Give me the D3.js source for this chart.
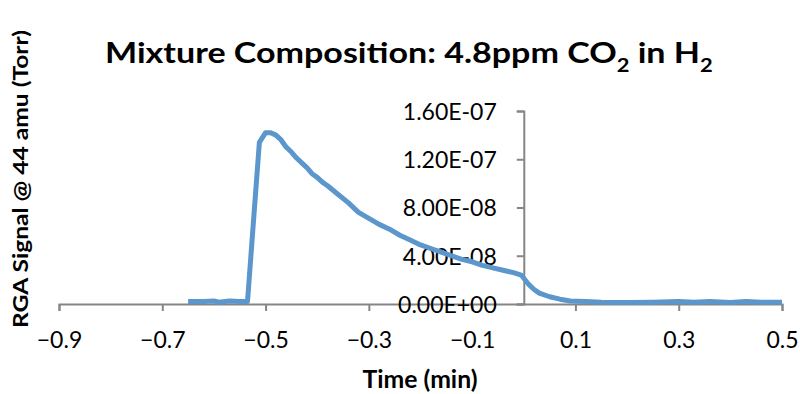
<!DOCTYPE html>
<html><head><meta charset="utf-8">
<script src="https://cdn.jsdelivr.net/npm/d3@7/dist/d3.min.js"></script>
<style>body{margin:0;background:#fff}svg{display:block}</style>
</head><body>
<svg id="c" width="800" height="394"></svg>
<script>
const times = [-0.65,-0.62,-0.60,-0.59,-0.57,-0.55,-0.535,-0.512,-0.50,-0.49,-0.48,-0.47,-0.46,-0.45,-0.44,-0.43,-0.42,-0.41,-0.40,-0.39,-0.38,-0.36,-0.34,-0.32,-0.30,-0.28,-0.26,-0.24,-0.22,-0.20,-0.18,-0.16,-0.14,-0.12,-0.10,-0.08,-0.06,-0.04,-0.02,-0.005,0.01,0.02,0.03,0.05,0.07,0.09,0.12,0.15,0.20,0.25,0.30,0.33,0.36,0.40,0.43,0.46,0.50];
const signal = [2.0e-9,2.0e-9,2.5e-9,1.5e-9,2.5e-9,2.0e-9,2.0e-9,1.34e-7,1.42e-7,1.42e-7,1.40e-7,1.36e-7,1.30e-7,1.26e-7,1.21e-7,1.17e-7,1.13e-7,1.08e-7,1.05e-7,1.01e-7,9.8e-8,9.1e-8,8.4e-8,7.6e-8,7.1e-8,6.6e-8,6.2e-8,5.7e-8,5.3e-8,4.9e-8,4.6e-8,4.3e-8,4.0e-8,3.7e-8,3.5e-8,3.2e-8,3.0e-8,2.8e-8,2.6e-8,2.4e-8,1.6e-8,1.2e-8,9e-9,6e-9,4e-9,2.5e-9,2e-9,1.5e-9,1.2e-9,1.5e-9,2e-9,1.5e-9,2e-9,1.2e-9,2e-9,1.5e-9,1.5e-9];
const xTicks = [-0.9,-0.7,-0.5,-0.3,-0.1,0.1,0.3,0.5];
const yTicks = [0,4e-8,8e-8,1.2e-7,1.6e-7];
const title = "Mixture Composition: 4.8ppm CO";
const yLabel = "RGA Signal @ 44 amu (Torr)";
const xLabel = "Time (min)";

const svg = d3.select("#c");
const x = d3.scaleLinear().domain([-0.9,0.5]).range([59,782]);
const y = d3.scaleLinear().domain([0,1.6e-7]).range([304,111]);
const axisColor = "#868686";
const font = "Lato, 'Open Sans', sans-serif";

function fmt(v){
  if (v===0) return "0.00E+00";
  const s = v.toExponential(2).split("e");
  const e = parseInt(s[1],10);
  return s[0] + "E" + (e<0?"-":"+") + String(Math.abs(e)).padStart(2,"0");
}

const gx = svg.append("g").attr("transform",`translate(0,${y(0)})`)
  .call(d3.axisBottom(x).tickValues(xTicks).tickSize(7).tickPadding(21).tickFormat(d=>d3.format(".1f")(d)));
const gy = svg.append("g").attr("transform",`translate(${x(0)},0)`)
  .call(d3.axisLeft(y).tickValues(yTicks).tickSize(7).tickPadding(20).tickFormat(fmt));
[gx,gy].forEach(g=>{
  g.select(".domain").attr("stroke",axisColor).attr("stroke-width",2);
  g.selectAll(".tick line").attr("stroke",axisColor).attr("stroke-width",2);
  g.selectAll(".tick text").attr("fill","#000").style("font-family",font).style("font-size","23px");
});
gy.selectAll(".tick text").attr("dy","0.36em");

const line = d3.line().x((d,i)=>x(times[i])).y(d=>y(d));
svg.append("path").datum(signal).attr("d",line).attr("fill","none")
  .attr("stroke","#5B96CC").attr("stroke-width",5).attr("stroke-linejoin","round");

// title, fitted horizontally to its span
const tg = svg.append("g");
const t = tg.append("text").attr("x",0).attr("y",0)
  .style("font-family",font).style("font-weight","bold").style("font-size","28px").attr("fill","#000");
t.append("tspan").text(title);
t.append("tspan").text("2").style("font-size","18px").attr("dy",9);
t.append("tspan").text(" in H").attr("dy",-9);
t.append("tspan").text("2").style("font-size","18px").attr("dy",9);
const tw = t.node().getBBox().width;
tg.attr("transform",`translate(105,63) scale(${608/tw},1)`);

// y label
const yl = svg.append("text").attr("text-anchor","middle")
  .style("font-family",font).style("font-weight","bold").style("font-size","21px")
  .attr("fill","#000").text(yLabel);
const yw = yl.node().getBBox().width;
yl.attr("transform",`translate(28,179) rotate(-90) scale(${298/yw},1)`);

// x label
const xl = svg.append("text").attr("text-anchor","middle")
  .style("font-family",font).style("font-weight","bold").style("font-size","25px").attr("fill","#000").text(xLabel);
const xw = xl.node().getBBox().width;
xl.attr("transform",`translate(420,388) scale(${115/xw},1)`);
</script>
</body></html>
